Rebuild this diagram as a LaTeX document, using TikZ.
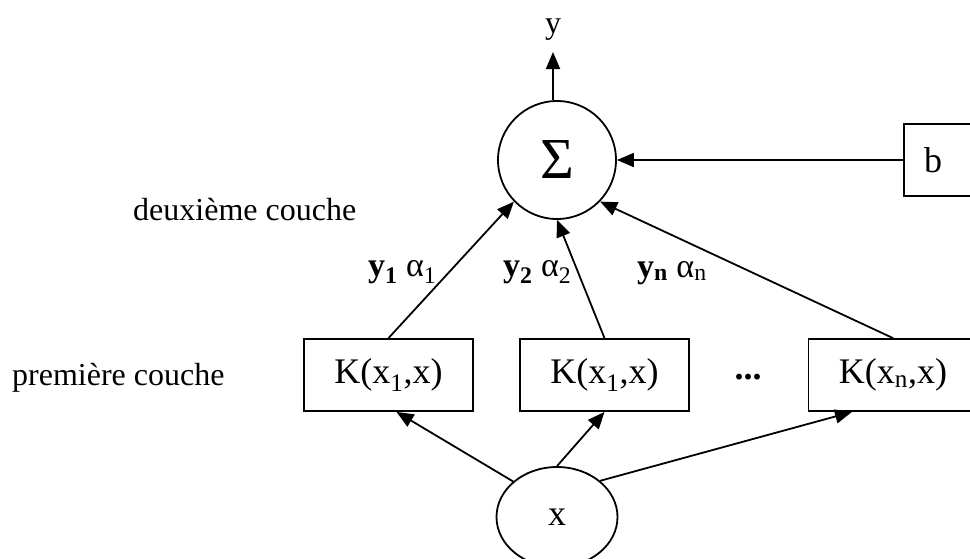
\documentclass[tikz,border=0pt]{standalone}
\usepackage{fontspec}
\setmainfont{Liberation Serif}
\usetikzlibrary{arrows.meta,shapes.geometric}
\begin{document}
\begin{tikzpicture}[x=1pt,y=-1pt,
  every node/.style={font=\fontsize{32}{38}\selectfont, inner sep=0pt},
  big/.style={font=\fontsize{36}{42}\selectfont},
  arr/.style={line width=1.8pt, -{Triangle[length=17pt,width=14pt]}},
  kbox/.style={draw, big, line width=1.8pt, minimum width=169pt, minimum height=72pt},
  lab/.style={anchor=base west, font=\fontsize{34}{40}\selectfont}]
\useasboundingbox (0,0) rectangle (970,558);
\clip (0,0) rectangle (970,558);
% nodes
\node[circle, draw, line width=1.8pt, minimum size=118pt, font=\fontsize{58}{66}\selectfont] (sigma) at (557,160) {Σ};
\node[anchor=base] (ylab) at (553,33) {y};
\coordinate (ytip) at (553,52);
\node[draw, big, line width=1.8pt, minimum height=72pt, text width=60pt, inner xsep=20pt, inner ysep=0pt, align=left] (b) at (954,160) {b};
\node[kbox] (k1) at (388.5,375) {K(x\textsubscript{1},x)};
\node[kbox] (k2) at (604.5,375) {K(x\textsubscript{1},x)};
\node[kbox] (k3) at (893,375) {K(x\textsubscript{n},x)};
\node[big] (dots) at (748,377) {\textbf{...}};
\node[ellipse, draw, big, line width=1.8pt, minimum width=121pt, minimum height=100pt] (x) at (557,517) {x};
% labels
\node[lab] (l1) at (368,276) {\textbf{y\textsubscript{1}} α\textsubscript{1}};
\node[lab] (l2) at (503,276) {\textbf{y\textsubscript{2}} α\textsubscript{2}};
\node[lab] (l3) at (637,277) {\textbf{y\textsubscript{n}} α\textsubscript{n}};
\node[anchor=base west] (c2) at (133,220) {deuxième couche};
\node[anchor=base west] (c1) at (12,385) {première couche};
% connectors
\draw[arr] ([xshift=-4pt]sigma.north) -- (ytip);
\draw[arr] (b.west) -- (sigma.east);
\draw[arr] (k1.north) -- (sigma.224);
\draw[arr] (k2.north) -- (sigma.south);
\draw[arr] (k3.north) -- (sigma.316);
\draw[arr] (x.141) -- ([xshift=8pt]k1.south);
\draw[arr] (x.north) -- (k2.south);
\draw[arr] (x.40) -- ([xshift=-41pt]k3.south);
\end{tikzpicture}
\end{document}
